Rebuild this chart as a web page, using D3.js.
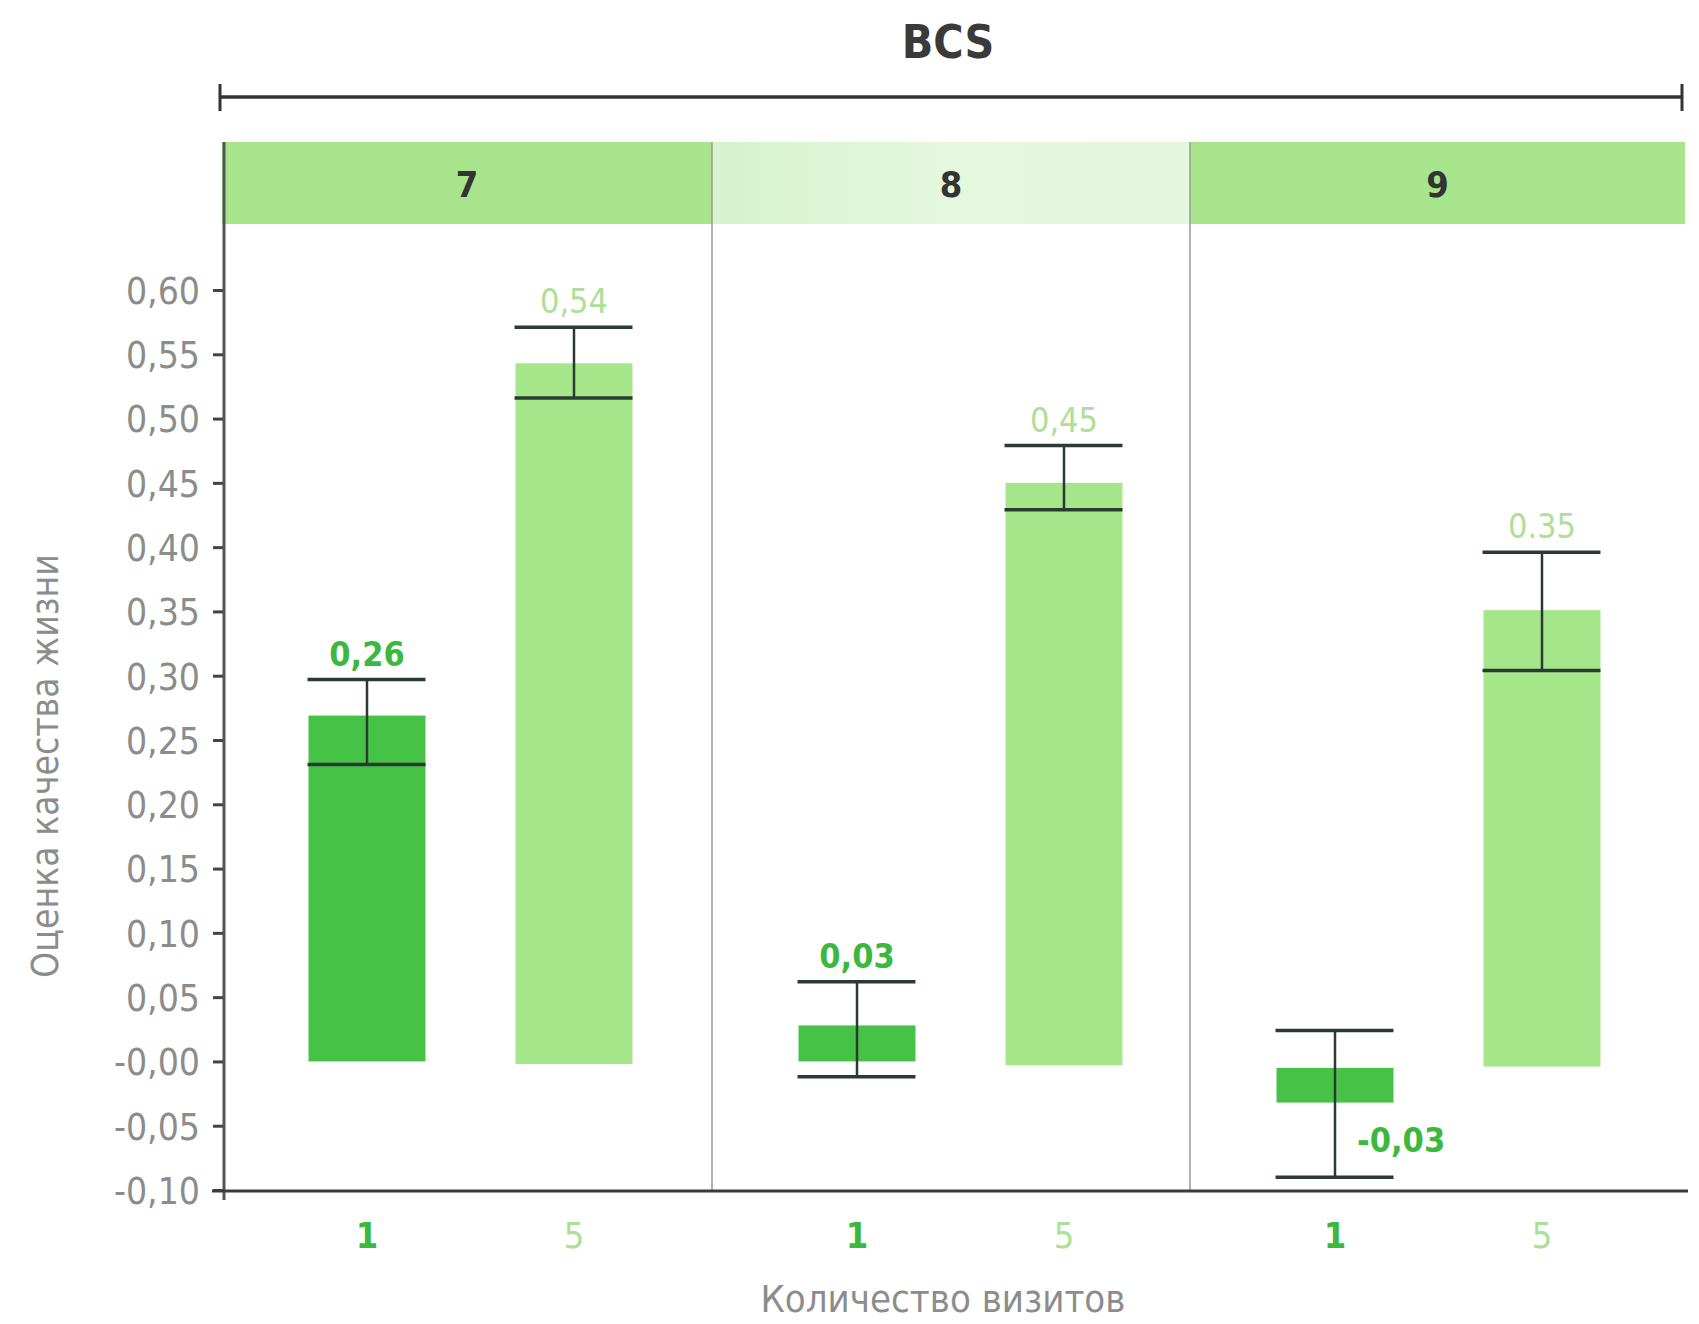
<!DOCTYPE html>
<html><head><meta charset="utf-8">
<script src="https://cdn.jsdelivr.net/npm/d3@7"></script>
<style>
html,body{margin:0;padding:0;background:#fff;}
text{font-family:"DejaVu Sans Condensed","Liberation Sans Narrow",sans-serif;}
</style></head>
<body>
<svg id="c" width="1699" height="1324"></svg>
<script>
// ---- data ----
const groups = ["7", "8", "9"];
const visits = ["1", "5"];
const barTop    = [0.269, 0.543, 0.028, 0.450, -0.005, 0.351];
const barBottom = [0.000, -0.002, 0.000, -0.003, -0.032, -0.004];
const errHigh   = [0.297, 0.571, 0.062, 0.479, 0.024, 0.396];
const errLow    = [0.231, 0.516, -0.012, 0.429, -0.090, 0.304];
const valueLabels = ["0,26", "0,54", "0,03", "0,45", "-0,03", "0.35"];
const yTicks = [-0.10, -0.05, 0.00, 0.05, 0.10, 0.15, 0.20, 0.25, 0.30, 0.35, 0.40, 0.45, 0.50, 0.55, 0.60];
const yTickLabels = ["-0,10","-0,05","-0,00","0,05","0,10","0,15","0,20","0,25","0,30","0,35","0,40","0,45","0,50","0,55","0,60"];
const chartTitle = "BCS";
const yTitle = "Оценка качества жизни";
const xTitle = "Количество визитов";

(function(){
const darkGreen = "#46c347", lightGreen = "#a6e68b";
const labelDark = "#3db83e", labelLight = "#addf97";

const svg = d3.select("#c");
const defs = svg.append("defs");
const grad = defs.append("linearGradient").attr("id","g8").attr("x1","0").attr("x2","1");
grad.append("stop").attr("offset","0").attr("stop-color","#d6f3cc");
grad.append("stop").attr("offset","0.5").attr("stop-color","#e4f8de");
grad.append("stop").attr("offset","1").attr("stop-color","#e2f7db");

const left = 224, right = 1688, topY = 142, headerH = 82;
const y = d3.scaleLinear().domain([-0.10, 0.60]).range([1190, 290]);
// panel edges (piecewise scale over group index)
const xp = d3.scaleLinear().domain([0, 1, 2, 3]).range([222, 712, 1190, 1685]);
const panelX = g => xp(groups.indexOf(g));
const panelW = g => xp(groups.indexOf(g) + 1) - xp(groups.indexOf(g));
const xv = d3.scaleBand().domain(visits).range([0, 497]).paddingInner(0.435).paddingOuter(0.418);

// title + bracket
svg.append("text").attr("x", 948).attr("y", 58).attr("text-anchor","middle")
  .attr("font-size", 46).attr("font-weight","bold").attr("fill","#3a3a3a").text(chartTitle);
svg.append("line").attr("x1", 220).attr("x2", 1682).attr("y1", 97).attr("y2", 97).attr("stroke","#333").attr("stroke-width",3.5);
[220, 1682].forEach(xx => svg.append("line").attr("x1", xx).attr("x2", xx).attr("y1", 84).attr("y2", 111).attr("stroke","#333").attr("stroke-width",3));

// header bands
groups.forEach(g => {
  svg.append("rect").attr("x", panelX(g)).attr("y", topY).attr("width", panelW(g)).attr("height", headerH)
    .attr("fill", g === "8" ? "url(#g8)" : "#a7e48c");
  svg.append("text").attr("x", panelX(g) + panelW(g)/2).attr("y", topY + headerH/2 + 14)
    .attr("text-anchor","middle").attr("font-size", 36).attr("font-weight","bold").attr("fill","#333").text(g);
});
// separators
groups.slice(1).forEach(g => {
  svg.append("line").attr("x1", panelX(g)).attr("x2", panelX(g)).attr("y1", topY).attr("y2", y(-0.10))
    .attr("stroke","#9a9a9a").attr("stroke-width",1.5);
});

// y axis
const yAxis = d3.axisLeft(y).tickValues(yTicks).tickFormat((d,i) => yTickLabels[i]).tickSize(11).tickSizeOuter(0);
const ga = svg.append("g").attr("transform", `translate(${left},0)`).call(yAxis);
ga.select(".domain").remove();
ga.selectAll(".tick line").attr("stroke","#444").attr("stroke-width",3);
ga.selectAll(".tick text").attr("font-size", 37).attr("fill","#8c8c8c").attr("x", -24).attr("dy","0.36em")
  .style("font-family","'DejaVu Sans Condensed',sans-serif");
svg.append("line").attr("x1", left).attr("x2", left).attr("y1", topY).attr("y2", 1200).attr("stroke","#555").attr("stroke-width",3);

// x axis line
svg.append("line").attr("x1", 212).attr("x2", right).attr("y1", y(-0.10)+1).attr("y2", y(-0.10)+1).attr("stroke","#3a3a3a").attr("stroke-width",3);

// bars
const data = [];
groups.forEach((g,gi) => visits.forEach((v,vi) => {
  const k = gi*2+vi;
  data.push({g, v, top: barTop[k], bottom: barBottom[k], hi: errHigh[k], lo: errLow[k], label: valueLabels[k]});
}));
const bx = d => panelX(d.g) + xv(d.v);
const cx = d => bx(d) + xv.bandwidth()/2;

svg.selectAll("rect.bar").data(data).join("rect").attr("class","bar")
  .attr("x", bx).attr("width", xv.bandwidth())
  .attr("y", d => y(Math.max(d.top, d.bottom))).attr("height", d => Math.abs(y(d.top) - y(d.bottom)))
  .attr("fill", d => d.v === "1" ? darkGreen : lightGreen);

// error bars
const eb = svg.selectAll("g.eb").data(data).join("g").attr("class","eb");
eb.append("line").attr("x1", cx).attr("x2", cx).attr("y1", d => y(d.hi)).attr("y2", d => y(d.lo)).attr("stroke","#2b3b33").attr("stroke-width",2.5);
eb.append("line").attr("x1", d => bx(d) - 1).attr("x2", d => bx(d) + xv.bandwidth())
  .attr("y1", d => y(d.hi)).attr("y2", d => y(d.hi)).attr("stroke","#2b3b33").attr("stroke-width",3.5);
eb.append("line").attr("x1", d => bx(d) - 1).attr("x2", d => bx(d) + xv.bandwidth())
  .attr("y1", d => y(d.lo)).attr("y2", d => y(d.lo)).attr("stroke","#2b3b33").attr("stroke-width",3.5);

// value labels
svg.selectAll("text.val").data(data).join("text").attr("class","val")
  .attr("x", d => d.top < 0 ? cx(d) + 22 : cx(d))
  .attr("y", d => d.top < 0 ? y(d.lo) - 25 : y(d.hi) - 14)
  .attr("text-anchor", d => d.top < 0 ? "start" : "middle")
  .attr("font-size", 34).attr("font-weight", d => d.v === "1" ? "bold" : "normal")
  .attr("fill", d => d.v === "1" ? labelDark : labelLight)
  .text(d => d.label);

// x category labels
svg.selectAll("text.xl").data(data).join("text").attr("class","xl")
  .attr("x", cx).attr("y", 1248).attr("text-anchor","middle")
  .attr("font-size", 36).attr("font-weight", d => d.v === "1" ? "bold" : "normal")
  .attr("fill", d => d.v === "1" ? labelDark : labelLight)
  .text(d => d.v);

// axis titles
svg.append("text").attr("x", 943).attr("y", 1312).attr("text-anchor","middle").attr("font-size", 38).attr("fill","#8c8c8c").text(xTitle);
svg.append("text").attr("transform", `translate(58,766) rotate(-90)`).attr("text-anchor","middle").attr("font-size", 37).attr("fill","#8c8c8c").text(yTitle);
})();
</script>
</body></html>
